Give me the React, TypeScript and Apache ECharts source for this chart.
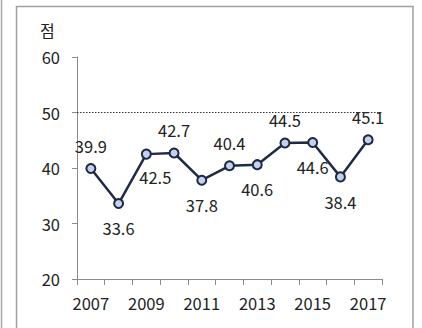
import React, { useEffect, useRef } from "react";
import * as echarts from "echarts";

const years = ["2007", "2008", "2009", "2010", "2011", "2012", "2013", "2014", "2015", "2016", "2017"];
const scores = [39.9, 33.6, 42.5, 42.7, 37.8, 40.4, 40.6, 44.5, 44.6, 38.4, 45.1];
const labelPlacement = ["top", "bottom", "right", "top", "bottom", "top", "bottom", "top", "bottom", "bottom", "top"];
const referenceValue = 50;
const yTicks = { min: 20, max: 60, interval: 10 };
const unitLabel = "점";

const FONT = "'Noto Sans CJK KR', 'Liberation Sans', sans-serif";
const FS = 16.5;

export default function App() {
  const ref = useRef<HTMLDivElement>(null);
  useEffect(() => {
    if (!ref.current) return;
    const chart = echarts.init(ref.current, null, { renderer: "svg" });
    const data = scores.map((v, i) => {
      const pos = labelPlacement[i];
      let label: any = { position: pos, distance: pos === "top" ? 9 : 11 };
      if (pos === "right") label = { position: "bottom", offset: [9, 0], distance: 9 };
      return { value: v, label };
    });
    chart.setOption({
      animation: false,
      grid: { left: 77, right: 40, top: 57, bottom: 49 },
      graphic: [
        { type: "line", shape: { x1: 1.5, y1: 0, x2: 1.5, y2: 328 }, style: { stroke: "#a8a8a8", lineWidth: 1.5 } },
        { type: "polyline", shape: { points: [[16.5, 330], [16.5, 6.5], [413, 6.5], [413, 330]] }, style: { stroke: "#a0a0a0", lineWidth: 1.5, fill: "none" } },
        { type: "text", left: 40, top: 22, style: { text: unitLabel, font: `16px ${FONT}`, fill: "#222" } },
      ],
      xAxis: {
        type: "category",
        data: years,
        boundaryGap: true,
        axisLine: { lineStyle: { color: "#8a8a8a", width: 1 } },
        axisTick: { show: true, length: 6, lineStyle: { color: "#8a8a8a" }, interval: 0 },
        axisLabel: { interval: 1, margin: 16, color: "#222", fontSize: FS, fontFamily: FONT },
      },
      yAxis: {
        type: "value",
        min: yTicks.min,
        max: yTicks.max,
        interval: yTicks.interval,
        splitLine: { show: false },
        axisLine: { show: true, lineStyle: { color: "#8a8a8a", width: 1 } },
        axisTick: { show: true, length: 5, lineStyle: { color: "#8a8a8a" } },
        axisLabel: { margin: 17, color: "#222", fontSize: FS, fontFamily: FONT },
      },
      series: [
        {
          type: "line",
          data,
          symbol: "circle",
          symbolSize: 9,
          lineStyle: { color: "#1f2b45", width: 2.5 },
          itemStyle: { color: "#c3d1ee", borderColor: "#1c2840", borderWidth: 2 },
          label: { show: true, color: "#222", fontSize: FS, fontFamily: FONT },
          markLine: {
            silent: true,
            symbol: "none",
            label: { show: false },
            lineStyle: { type: [1.5, 1.5], color: "#333", width: 1 },
            data: [{ yAxis: referenceValue }],
          },
        },
      ],
    });
    return () => chart.dispose();
  }, []);
  return <div ref={ref} style={{ position: "absolute", left: 0, top: 0, width: 422, height: 328 }} />;
}
